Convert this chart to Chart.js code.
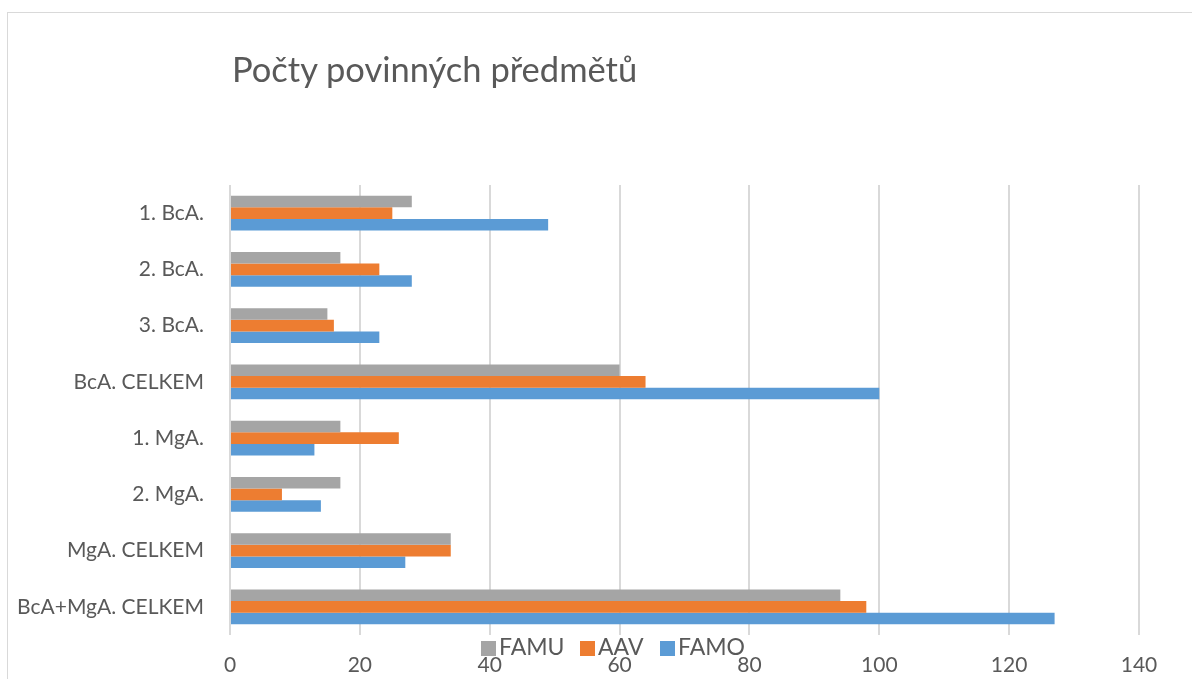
<!DOCTYPE html>
<html>
<head>
<meta charset="utf-8">
<script src="https://cdn.jsdelivr.net/npm/chart.js@4.4.0/dist/chart.umd.min.js"></script>
<style>
  body { margin: 0; background: #fff; overflow: hidden; }
  #wrap { position: relative; width: 1192px; height: 679px; }
  #frame { position: absolute; left: 7px; top: 12px; width: 1300px; height: 800px; border: 1px solid #d9d9d9; }
  #titulek { position: absolute; left: 232px; top: 48px; font-family: Lato, "Open Sans", sans-serif; font-size: 34.5px; color: #595959; white-space: nowrap; }
  .leg { position: absolute; top: 632px; height: 28px; line-height: 28px; font-family: Lato, "Open Sans", sans-serif; font-size: 23px; color: #595959; white-space: nowrap; }
  .leg span.box { display: inline-block; width: 15px; height: 15px; margin-right: 3px; vertical-align: -1px; }
  canvas { position: absolute; left: 0; top: 0; }
</style>
</head>
<body>
<div id="wrap">
  <div id="frame"></div>
  <canvas id="graf" width="1192" height="679"></canvas>
  <div id="titulek">Počty povinných předmětů</div>
</div>
<script>
// kategorie (shora dolu)
const kategorie = ["1. BcA.", "2. BcA.", "3. BcA.", "BcA. CELKEM", "1. MgA.", "2. MgA.", "MgA. CELKEM", "BcA+MgA. CELKEM"];

// hodnoty podle skoly
const famu = [28, 17, 15, 60, 17, 17, 34, 94];
const aav  = [25, 23, 16, 64, 26, 8, 34, 98];
const famo = [49, 28, 23, 100, 13, 14, 27, 127];

const nazvySerii = ["FAMU", "AAV", "FAMO"];
const barvy = ["#A5A5A5", "#ED7D31", "#5B9BD5"];
const legendaX = [481, 580, 660];

const osaX = [0, 20, 40, 60, 80, 100, 120, 140];

const pismo = "Lato, 'Open Sans', sans-serif";
const sedaText = "#595959";

/*
* Legenda
*/
const wrap = document.getElementById("wrap");
nazvySerii.forEach(function (n, i) {
    let d = document.createElement("div");
    d.className = "leg";
    d.style.left = legendaX[i] + "px";
    d.innerHTML = '<span class="box" style="background:' + barvy[i] + '"></span>' + n;
    wrap.appendChild(d);
});

/*
* Graf
*/
const ctx = document.getElementById("graf").getContext("2d");
const graf = new Chart(ctx, {
    type: "bar",
    data: {
        labels: kategorie,
        datasets: [
            { label: nazvySerii[0], data: famu, backgroundColor: barvy[0] },
            { label: nazvySerii[1], data: aav, backgroundColor: barvy[1] },
            { label: nazvySerii[2], data: famo, backgroundColor: barvy[2] }
        ]
    },
    options: {
        indexAxis: "y",
        responsive: false,
        animation: false,
        layout: { padding: { top: 185, right: 53, left: 0, bottom: 0 } },
        datasets: {
            bar: { categoryPercentage: 0.62, barPercentage: 1.0 }
        },
        plugins: {
            legend: { display: false },
            title: { display: false },
            tooltip: { enabled: false }
        },
        scales: {
            x: {
                min: osaX[0],
                max: osaX[osaX.length - 1],
                afterBuildTicks: function (scale) {
                    scale.ticks = osaX.map(function (v) { return { value: v }; });
                },
                afterFit: function (scale) { scale.height = 44; },
                grid: { color: "#d9d9d9", lineWidth: 2, drawTicks: false },
                border: { display: false },
                ticks: { color: sedaText, font: { family: pismo, size: 21 }, padding: 18 }
            },
            y: {
                afterFit: function (scale) { scale.width = 230; },
                grid: { display: false },
                border: { display: false },
                ticks: { color: sedaText, font: { family: pismo, size: 21 }, padding: 18 }
            }
        }
    }
});
</script>
</body>
</html>
